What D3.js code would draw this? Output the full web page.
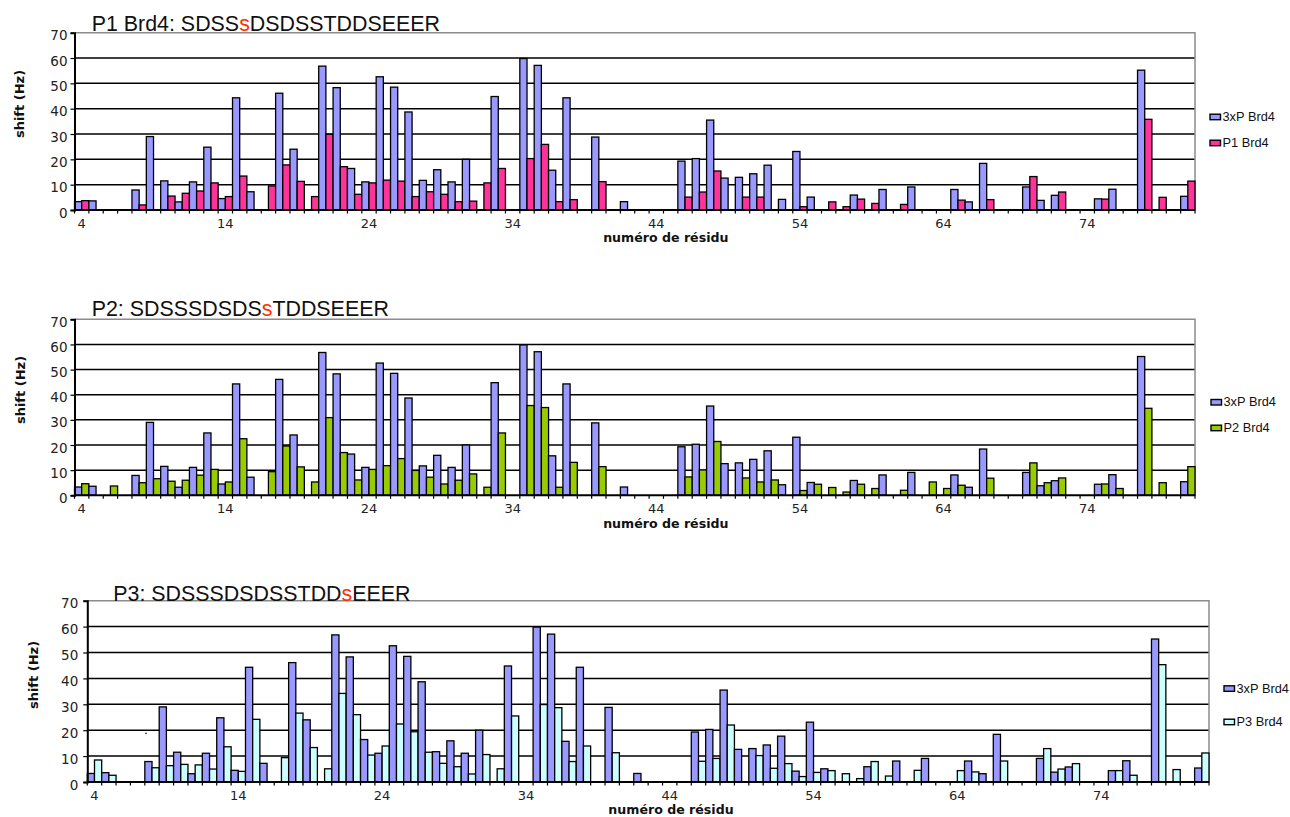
<!DOCTYPE html>
<html><head><meta charset="utf-8">
<script src="https://cdn.jsdelivr.net/npm/d3@7"></script>
<style>body{margin:0;background:#fff}</style>
</head><body>
<svg id="c" width="1290" height="817"></svg>
<script>
// ---------- DATA ----------
const residues = [4,5,6,7,8,9,10,11,12,13,14,15,16,17,18,19,20,21,22,23,24,25,26,27,28,29,30,31,32,33,
  34,35,36,37,38,39,40,41,42,43,44,45,46,47,48,49,50,51,52,53,54,55,56,57,58,59,60,61,62,63,
  64,65,66,67,68,69,70,71,72,73,74,75,76,77,78,79,80,81];
const xTickLabels = [4,14,24,34,44,54,64,74];
const yTicks = [0,10,20,30,40,50,60,70];
const seriesNames = ["3xP Brd4","P1 Brd4","P2 Brd4","P3 Brd4"];

const ref3xP = [3.3,3.6,null,null,7.9,29.0,11.5,3.2,11.1,24.8,
  4.5,44.3,7.2,null,46.1,24.0,null,56.8,48.3,16.4,
  11.1,52.6,48.5,38.7,11.7,15.9,11.1,20.0,null,44.8,
  null,59.8,57.1,15.7,44.3,null,28.8,null,3.3,null,
  null,null,19.3,20.3,35.5,12.6,12.9,14.3,17.7,4.2,
  23.1,5.1,null,null,5.9,null,8.1,null,9.1,null,
  null,8.1,3.2,18.4,null,null,9.1,3.8,5.8,null,
  null,4.4,8.2,null,55.2,null,null,5.4];
const p1Brd4 = [3.7,null,null,null,2.0,null,5.5,6.6,7.5,10.7,
  5.3,13.4,null,9.5,17.8,11.3,5.3,29.9,17.1,6.2,
  10.7,11.8,11.4,5.3,7.2,6.2,3.3,3.5,10.7,16.4,
  null,20.3,25.9,3.3,4.1,null,11.2,null,null,null,
  null,null,5.1,7.1,15.4,null,5.1,5.1,null,null,
  1.3,null,3.2,1.3,4.3,2.6,null,2.2,null,null,
  null,3.9,null,4.1,null,null,13.2,null,7.1,null,
  null,4.3,null,null,35.8,5.0,null,11.4];
const p2Brd4 = [4.6,null,3.7,null,5.0,6.6,5.6,6.0,8.0,10.3,
  5.3,22.5,null,9.4,19.6,11.3,5.3,30.9,17.0,6.1,
  10.3,11.8,14.6,9.9,7.2,4.5,6.0,8.5,3.2,24.8,
  null,35.7,34.9,3.2,13.1,null,11.4,null,null,null,
  null,null,7.3,10.1,21.4,null,6.9,5.3,6.1,null,
  1.9,4.4,3.1,1.3,4.4,2.7,null,2.0,null,5.3,
  2.7,4.0,null,6.8,null,null,12.9,5.0,6.9,null,
  null,4.5,2.7,null,34.6,5.0,null,11.4];
const p3Brd4 = [8.5,2.6,null,null,5.5,6.3,6.8,6.6,5.0,13.6,
  4.1,24.2,null,9.4,26.6,13.3,5.1,34.2,26.0,10.4,
  13.9,22.4,19.4,11.5,7.2,5.9,3.1,10.6,5.1,25.5,
  null,29.9,28.7,7.9,13.9,null,11.3,null,null,null,
  null,null,8.0,9.1,22.0,null,10.2,5.3,7.1,2.1,
  3.7,4.4,3.2,1.3,7.9,2.3,null,4.5,null,null,
  4.4,3.9,null,8.1,null,null,12.9,5.0,7.1,null,
  null,4.4,2.6,null,45.3,4.8,null,11.2];

const titles = [
  ["P1 Brd4: SDSS","s","DSDSSTDDSEEER"],
  ["P2: SDSSSDSDS","s","TDDSEEER"],
  ["P3: SDSSSDSDSSTDD","s","EEER"]
];

// ---------- STYLE / LAYOUT ----------
const colRef = "#9999ff";
const colors = ["#ff3399","#99cc00","#ccffff"];
const panels = [
  {series:p1Brd4, name:seriesNames[1], color:colors[0], title:titles[0],
   left:74.5, right:1195, top:32.7, bottom:210, titleX:91.7, titleY:31,
   yl:[19.5,104], xlX:665.8, xlY:241.8, legX:1210, legY:[116.7,142.7], tickPad:3},
  {series:p2Brd4, name:seriesNames[2], color:colors[1], title:titles[1],
   left:74.5, right:1195, top:319.3, bottom:495.3, titleX:91.7, titleY:316,
   yl:[20,390], xlX:665.8, xlY:527.5, legX:1211, legY:[402,427.7], tickPad:3},
  {series:p3Brd4, name:seriesNames[3], color:colors[2], title:titles[2],
   left:87.3, right:1209, top:600.7, bottom:782, titleX:113.3, titleY:600.5,
   yl:[33.5,675], xlX:671, xlY:813.5, legX:1224, legY:[688.3,721.7], tickPad:5}
];

const svg = d3.select("#c");
const tickFont = "'DejaVu Sans', Verdana, sans-serif";
const arial = "'Liberation Sans', Arial, sans-serif";

panels.forEach((P, pi) => {
  const g = svg.append("g");
  const x = d3.scaleBand().domain(residues).range([P.left, P.right]).padding(0);
  const xs = d3.scaleBand().domain([0,1]).range([0, x.bandwidth()]).padding(0);
  const y = d3.scaleLinear().domain([0,70]).range([P.bottom, P.top]);

  // gridlines
  g.append("g").selectAll("line").data(yTicks.filter(v => v > 0 && v < 70)).join("line")
    .attr("x1", P.left).attr("x2", P.right)
    .attr("y1", d => y(d)).attr("y2", d => y(d))
    .attr("stroke", "#000").attr("stroke-width", 1.5);
  // top / right border
  g.append("path")
    .attr("d", `M${P.left},${y(70)}H${P.right}V${P.bottom}`)
    .attr("fill", "none").attr("stroke", "#8c8c8c").attr("stroke-width", 1.5);

  // bars
  const rows = residues.map((r, i) => ({r, vals:[ref3xP[i], P.series[i]]}));
  const bars = [];
  rows.forEach(d => d.vals.forEach((v, k) => { if (v != null) bars.push({r:d.r, k, v}); }));
  g.append("g").selectAll("rect").data(bars).join("rect")
    .attr("x", d => x(d.r) + xs(d.k))
    .attr("width", xs.bandwidth())
    .attr("y", d => y(d.v))
    .attr("height", d => y(0) - y(d.v))
    .attr("fill", d => d.k === 0 ? colRef : P.color)
    .attr("stroke", "#000").attr("stroke-width", 1.3);

  // y axis
  const ya = g.append("g").attr("transform", `translate(${P.left},0)`)
    .call(d3.axisLeft(y).tickValues(yTicks).tickSize(4).tickPadding(P.tickPad).tickFormat(d3.format("d")));
  ya.select(".domain").attr("stroke", "#000").attr("stroke-width", 2);
  ya.selectAll(".tick line").attr("stroke", "#000").attr("stroke-width", 1.2);
  ya.selectAll("text").attr("font-family", tickFont).attr("font-size", 13.5)
    .attr("fill", "#222").attr("dy", "0.52em");

  // x axis
  const xa = g.append("g").attr("transform", `translate(0,${P.bottom})`)
    .call(d3.axisBottom(x).tickValues(xTickLabels).tickSize(0).tickPadding(0));
  xa.select(".domain").remove();
  xa.selectAll("text").attr("font-family", tickFont).attr("font-size", 13)
    .attr("fill", "#222").attr("dy", null).attr("y", 18.2);
  g.append("line").attr("x1", P.left).attr("x2", P.right).attr("y1", P.bottom).attr("y2", P.bottom)
    .attr("stroke", "#000").attr("stroke-width", 2);
  g.append("g").selectAll("line").data(residues.map(r => x(r)).concat([P.right])).join("line")
    .attr("x1", d => d).attr("x2", d => d).attr("y1", P.bottom).attr("y2", P.bottom + 3.5)
    .attr("stroke", "#000").attr("stroke-width", 1.2);

  // axis titles
  g.append("text").attr("transform", `translate(${P.yl[0] + 4.5},${P.yl[1]}) rotate(-90)`)
    .attr("text-anchor", "middle").attr("font-family", tickFont).attr("font-weight", "bold")
    .attr("font-size", 13).attr("fill", "#111").text("shift (Hz)");
  g.append("text").attr("x", P.xlX).attr("y", P.xlY).attr("text-anchor", "middle")
    .attr("font-family", tickFont).attr("font-weight", "bold").attr("font-size", 12.6)
    .attr("fill", "#111").text("numéro de résidu");

  // title
  const t = g.append("text").attr("x", P.titleX).attr("y", P.titleY)
    .attr("font-family", arial).attr("font-size", 21.4).attr("fill", "#111");
  P.title.forEach((s, i) => t.append("tspan").attr("fill", i === 1 ? "#ff3300" : "#111").text(s));

  // legend
  const leg = [{n:seriesNames[0], c:colRef}, {n:P.name, c:P.color}];
  leg.forEach((L, i) => {
    g.append("rect").attr("x", P.legX).attr("y", P.legY[i] - 2.5).attr("width", 10.5).attr("height", 5.5)
      .attr("fill", L.c).attr("stroke", "#000").attr("stroke-width", 1.4);
    g.append("text").attr("x", P.legX + 12.5).attr("y", P.legY[i] + 4.3)
      .attr("font-family", arial).attr("font-size", 12.8).attr("fill", "#111").text(L.n);
  });
});

// small stray dot present in the original third panel
svg.append("circle").attr("cx", 146).attr("cy", 733.3).attr("r", 0.9).attr("fill", "#333");
</script>
</body></html>
